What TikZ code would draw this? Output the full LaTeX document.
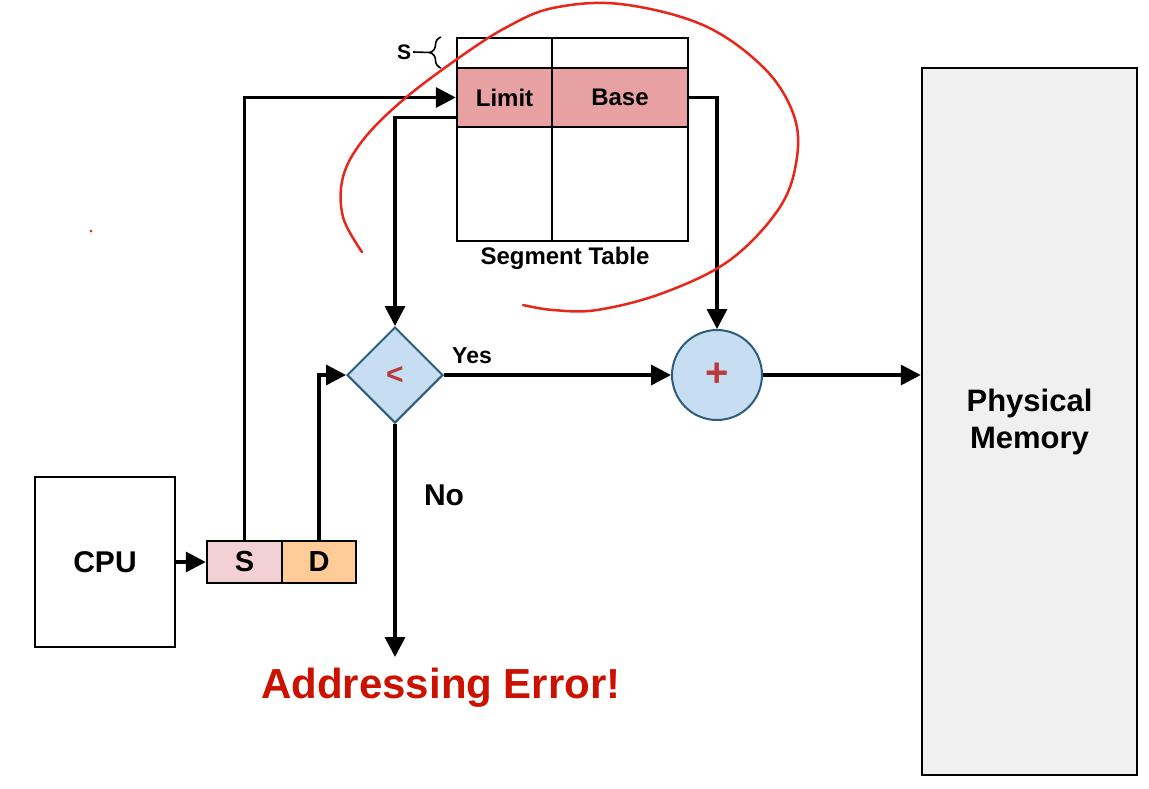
\documentclass[tikz,border=0pt]{standalone}
\usepackage{fontspec}
\setmainfont{Liberation Sans}
\usepackage{xcolor}
\usepackage{tikz}
\usetikzlibrary{arrows.meta, shapes.geometric, decorations.pathreplacing}

\definecolor{limitred}{HTML}{E8A1A2}
\definecolor{spink}{HTML}{F2D0D4}
\definecolor{dorange}{HTML}{FFCC99}
\definecolor{opblue}{HTML}{C6DDF2}
\definecolor{opedge}{HTML}{2E5C7E}
\definecolor{errred}{HTML}{CC1100}
\definecolor{opred}{HTML}{B83A3A}
\definecolor{memgray}{HTML}{F0F0F0}
\definecolor{penred}{HTML}{E8261A}

\tikzset{
	box/.style={draw, line width=2.5pt, inner sep=0pt, font=\bfseries\fontsize{24}{28}\selectfont},
	wire/.style={line width=3.5pt, -{Triangle[length=20pt,width=20pt]}},
	op/.style={draw=opedge, line width=2pt, fill=opblue, inner sep=0pt, text=opred},
	lbl/.style={inner sep=0pt, font=\bfseries\fontsize{#1}{#1}\selectfont},
}

\begin{document}
\begin{tikzpicture}[x=1pt, y=-1pt]
			\useasboundingbox (0,0) rectangle (1149,788);
			
			% cpu and logical address
			\node[box, minimum width=140, minimum height=170, font=\bfseries\fontsize{30}{34}\selectfont] (cpu) at (105,562) {CPU};
			\node[box, fill=spink, minimum width=75, minimum height=42, font=\bfseries\fontsize{29}{34}\selectfont] (scell) at (244.5,562) {S};
			\node[box, fill=dorange, minimum width=74, minimum height=42, font=\bfseries\fontsize{29}{34}\selectfont] (dcell) at (319,562) {D};
			
			% segment table
			\foreach \name/\x/\y/\w/\h/\col/\txt in {
				topL/504.5/53/95/30/white/{},
				topB/620/53/136/30/white/{},
				limit/504.5/97.5/95/59/limitred/Limit,
				base/620/97.5/136/59/limitred/Base,
				botL/504.5/184/95/114/white/{},
				botB/620/184/136/114/white/{}
			}{
				\node[box, fill=\col, minimum width=\w, minimum height=\h] (\name) at (\x,\y) {\txt};
			}
			\node[lbl=24] (tlabel) at (565,258) {Segment Table};
			\node[lbl=21] (sidx) at (404,52) {S};
			\draw[line width=1.6pt, decorate, decoration={brace, amplitude=11pt}] (441,68) -- (441,37);
			\draw[line width=1.6pt] (sidx.east) ++(2,0) -- (430,52.5);
			
			% compare, add, memory
			\node[op, diamond, minimum size=96, font=\bfseries\fontsize{30}{32}\selectfont] (cmp) at (395,375) {<};
			\node[op, circle, minimum size=90, font=\bfseries\fontsize{40}{40}\selectfont] (add) at (717,375) {+};
			\node[draw, line width=2.5pt, fill=memgray, minimum width=215, minimum height=707, align=center, font=\bfseries\fontsize{31}{37}\selectfont] (mem) at (1029.5,421.5) {\raisebox{-4pt}{Physical}\\\raisebox{-4pt}{Memory}};
			\coordinate (errtip) at (395,657);
			
			\draw[wire] (cpu.east) -- (scell.west);
			\draw[wire] (scell.north) |- (limit.west);
			\draw[wire] ([yshift=-20pt]limit.west) -| (cmp.north);
			\draw[wire] (dcell.north) |- (cmp.west);
			\draw[wire] (base.east) -| (add.north);
			\draw[wire] (cmp.east) -- (add.west);
			\draw[wire] (add.east) -- (add.east -| mem.west);
			\draw[wire] (cmp.south) -- (errtip);
			
			\node[lbl=23] (yes) at (472,356) {Yes};
			\node[lbl=30] (no) at (444,495) {No};
			\node[lbl=42, text=errred] (err) at (441,688) {Addressing Error!};
			
			% pen marks
			\draw[penred, line width=2.5pt, line cap=round] plot[smooth, tension=0.6] coordinates {
				(362,252) (343,217) (343,177) (363,140) (403,100) (460,57) (507,27) (553,8) (620,4)
				(703,25) (763,67) (793,113) (797,157) (780,207) (730,260) (663,293) (597,310) (553,310) (523,305)
			};
			\fill[penred] (91,231) circle (1.5);
\end{tikzpicture}
\end{document}
